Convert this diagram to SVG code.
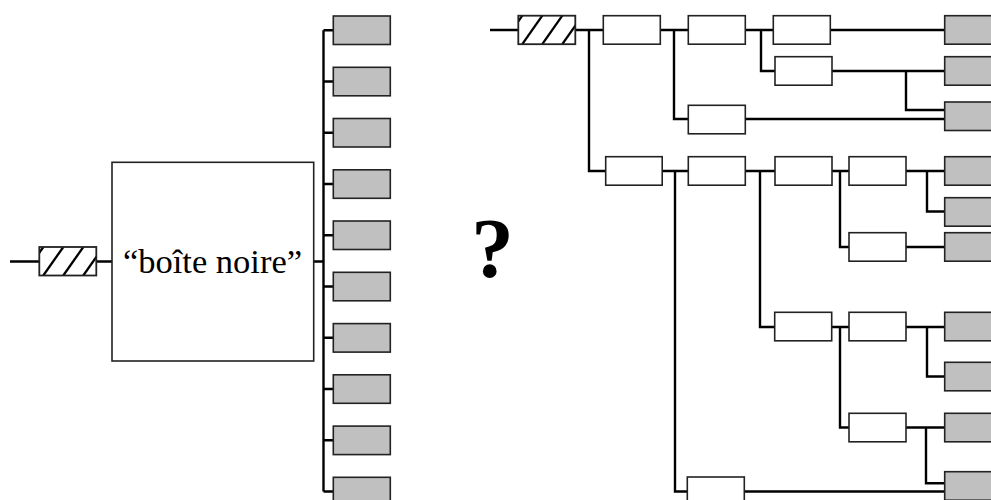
<svg xmlns="http://www.w3.org/2000/svg" xmlns:xlink="http://www.w3.org/1999/xlink" width="991" height="500" viewBox="0 0 991 500">
<style>
.box{fill:#fff;stroke:#222;stroke-width:1.6}
.leaf{fill:#c0c0c0;stroke:#222;stroke-width:1.6}
.wire{fill:none;stroke:#000;stroke-width:2.4;stroke-linecap:butt;stroke-linejoin:miter}
.label{fill:#000}
</style>
<defs>
<clipPath id="hc"><rect x="0" y="0" width="57" height="28.5"/></clipPath>
<g id="hatch">
<rect x="0" y="0" width="57" height="28.5" fill="#fff"/>
<g clip-path="url(#hc)" stroke="#000" stroke-width="2.3">
<line x1="-16" y1="28.5" x2="4" y2="0"/>
<line x1="4" y1="28.5" x2="24" y2="0"/>
<line x1="24" y1="28.5" x2="44" y2="0"/>
<line x1="44" y1="28.5" x2="64" y2="0"/>
</g>
<rect x="0" y="0" width="57" height="28.5" fill="none" stroke="#222" stroke-width="1.8"/>
</g>
</defs>
<rect width="991" height="500" fill="#fff"/>

<g id="connectors">
<path class="wire" d="M10,261.5H39 M96,261.5H112 M314,261.5H323.5"/>
<path class="wire" d="M323.5,30.2V491.5"/>
<path class="wire" d="M323.5,30.2H333 M323.5,81.5H333 M323.5,132.8H333 M323.5,184H333 M323.5,235.3H333 M323.5,286.5H333 M323.5,337.8H333 M323.5,389H333 M323.5,440.3H333 M323.5,491.5H333"/>
<path class="wire" d="M490,30H518 M575,30H603 M589,30V171H606"/>
<path class="wire" d="M660,30H688 M674,30V119H688"/>
<path class="wire" d="M745,30H773 M761,30V71H775"/>
<path class="wire" d="M830,30H945"/>
<path class="wire" d="M832,71H945 M906,71V110H945"/>
<path class="wire" d="M745,119H945"/>
<path class="wire" d="M662,171H688 M675,171V491.5H688"/>
<path class="wire" d="M745,491.5H945"/>
<path class="wire" d="M745,171H775 M760,171V327H775"/>
<path class="wire" d="M832,171H849 M840,171V247H849"/>
<path class="wire" d="M906,171H945 M927,171V211.5H945"/>
<path class="wire" d="M906,247H945"/>
<path class="wire" d="M832,327H849 M840,327V427.5H849"/>
<path class="wire" d="M906,327H945 M927,327V376.5H945"/>
<path class="wire" d="M906,427.5H945 M926,427.5V483.3H945"/>
</g>

<g id="input-left"><use xlink:href="#hatch" x="39.3" y="247"/></g>
<g id="black-box">
<rect class="box" x="112" y="162.3" width="201.7" height="198.7"/>
<text class="label" x="212.5" y="273.3" font-family="'Liberation Serif', 'DejaVu Serif', serif" font-size="34.5" text-anchor="middle">“boîte noire”</text>
</g>
<g id="outputs-left">
<rect class="leaf" x="333.3" y="16" width="57" height="28.5"/>
<rect class="leaf" x="333.3" y="67.3" width="57" height="28.5"/>
<rect class="leaf" x="333.3" y="118.5" width="57" height="28.5"/>
<rect class="leaf" x="333.3" y="169.8" width="57" height="28.5"/>
<rect class="leaf" x="333.3" y="221" width="57" height="28.5"/>
<rect class="leaf" x="333.3" y="272.3" width="57" height="28.5"/>
<rect class="leaf" x="333.3" y="323.6" width="57" height="28.5"/>
<rect class="leaf" x="333.3" y="374.8" width="57" height="28.5"/>
<rect class="leaf" x="333.3" y="426.1" width="57" height="28.5"/>
<rect class="leaf" x="333.3" y="477.3" width="57" height="28.5"/>
</g>

<g id="question">
<text class="label" x="492.5" y="277" font-family="'Liberation Serif', 'DejaVu Serif', serif" font-size="85" font-weight="bold" text-anchor="middle">?</text>
</g>

<g id="input-right"><use xlink:href="#hatch" x="518.3" y="15.7"/></g>
<g id="A1"><rect class="box" x="603.3" y="15.7" width="57" height="28.5"/></g>
<g id="A2"><rect class="box" x="688.3" y="15.7" width="57" height="28.5"/></g>
<g id="A3"><rect class="box" x="688.3" y="105.3" width="57" height="28.5"/></g>
<g id="A4"><rect class="box" x="773.3" y="15.7" width="57" height="28.5"/></g>
<g id="A5"><rect class="box" x="775" y="56.7" width="57" height="28.5"/></g>
<g id="B1"><rect class="box" x="605.7" y="156.7" width="56.5" height="28.5"/></g>
<g id="B2"><rect class="box" x="688.3" y="156.7" width="57" height="28.5"/></g>
<g id="B3"><rect class="box" x="775" y="156.7" width="57" height="28.5"/></g>
<g id="B4"><rect class="box" x="849" y="156.7" width="57" height="28.5"/></g>
<g id="B5"><rect class="box" x="849" y="232.7" width="57" height="28.5"/></g>
<g id="B6"><rect class="box" x="774.7" y="312.3" width="57" height="28.5"/></g>
<g id="B7"><rect class="box" x="849" y="312.3" width="57" height="28.5"/></g>
<g id="B8"><rect class="box" x="849" y="413.3" width="57" height="28.5"/></g>
<g id="B9"><rect class="box" x="687.3" y="477" width="57" height="28.5"/></g>
<g id="outputs-right">
<rect class="leaf" x="944.7" y="15.7" width="57" height="28.5"/>
<rect class="leaf" x="944.7" y="56.7" width="57" height="28.5"/>
<rect class="leaf" x="944.7" y="102" width="57" height="28.5"/>
<rect class="leaf" x="944.7" y="156.7" width="57" height="28.5"/>
<rect class="leaf" x="944.7" y="197.7" width="57" height="28.5"/>
<rect class="leaf" x="944.7" y="232.7" width="57" height="28.5"/>
<rect class="leaf" x="944.7" y="312.3" width="57" height="28.5"/>
<rect class="leaf" x="944.7" y="362.3" width="57" height="28.5"/>
<rect class="leaf" x="944.7" y="413.3" width="57" height="28.5"/>
<rect class="leaf" x="944.7" y="471.7" width="57" height="28.5"/>
</g>
</svg>
